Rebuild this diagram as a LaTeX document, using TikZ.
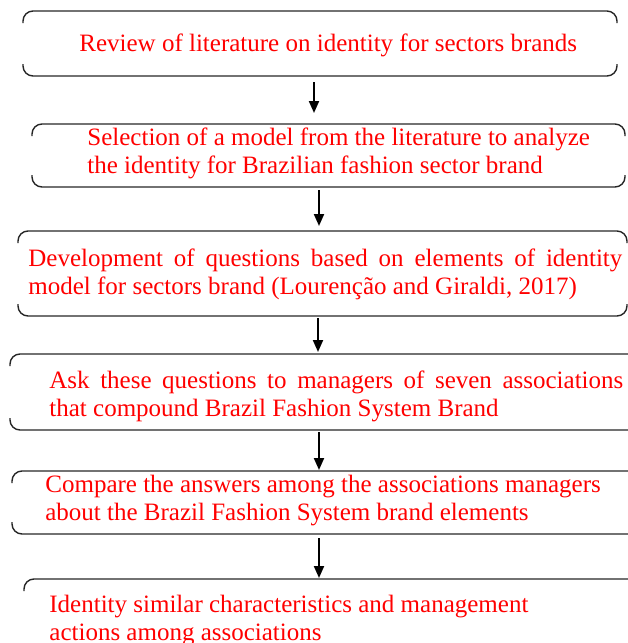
\documentclass[tikz,border=0pt]{standalone}
\usepackage{fontspec}
\setmainfont{Liberation Serif}
\usetikzlibrary{arrows.meta}

% open frame: only the top and bottom edges with their rounded ends
\newcommand{\stepframe}[1]{%
  \draw[bracket] ([yshift=-6pt]#1.north west) -- (#1.north west) -- (#1.north east) -- ([yshift=-6pt]#1.north east);
  \draw[bracket] ([yshift=6pt]#1.south west) -- (#1.south west) -- (#1.south east) -- ([yshift=6pt]#1.south east);}

\begin{document}
\begin{tikzpicture}[x=0.5pt,y=-0.5pt,
    frame/.style={inner sep=0pt,outer sep=0pt},
    bracket/.style={draw=black!85,line width=0.7pt,rounded corners=5pt},
    flow/.style={-{Triangle[length=6pt,width=5pt]},line width=1pt},
    steptext/.style={text=red,font=\fontsize{12.5}{14}\selectfont,align=left,inner sep=0pt,anchor=base west}]
    \useasboundingbox (0,0) rectangle (627,643);

    % frames
    \node[frame,minimum width=297pt,minimum height=32.5pt] (box1) at (320,43.5) {};
    \node[frame,minimum width=296.5pt,minimum height=31.5pt] (box2) at (328.5,155.5) {};
    \node[frame,minimum width=304.5pt,minimum height=42.5pt] (box3) at (322.5,273.5) {};
    \node[frame,minimum width=315pt,minimum height=38pt] (box4) at (325,392) {};
    \node[frame,minimum width=314pt,minimum height=31.5pt] (box5) at (326,502.5) {};
    \node[frame,minimum width=308pt,minimum height=40.5pt] (box6) at (332,619.5) {};
    \foreach \b in {box1,box2,box3,box4,box5,box6} \stepframe{\b};

    % steps (base = baseline of the last line)
    \node[steptext] (txt1) at (79,51) {Review of literature on identity for sectors brands};
    \node[steptext] (txt2) at (87,173) {Selection of a model from the literature to analyze\\the identity for Brazilian fashion sector brand};
    \node[steptext] (txt3) at (28,294) {\makebox[297pt][s]{Development of questions based on elements of identity}\\model for sectors brand (Lourenção and Giraldi, 2017)};
    \node[steptext] (txt4) at (49,416) {\makebox[287pt][s]{Ask these questions to managers of seven associations}\\that compound Brazil Fashion System Brand};
    \node[steptext] (txt5) at (45,520) {Compare the answers among the associations managers\\about the Brazil Fashion System brand elements};
    \node[steptext] (txt6) at (49,640) {Identity similar characteristics and management\\actions among associations};

    % arrows
    \draw[flow,shorten <=3pt,shorten >=5.5pt] ([xshift=-3pt]box1.south) -- ([xshift=-7.25pt]box2.north);
    \draw[flow,shorten <=1.5pt,shorten >=2.5pt] ([xshift=-4.75pt]box2.south) -- ([xshift=-1.75pt]box3.north);
    \draw[flow,shorten <=1pt,shorten >=1pt] ([xshift=-2.25pt]box3.south) -- ([xshift=-3.5pt]box4.north);
    \draw[flow,shorten <=1pt,shorten >=0.5pt] ([xshift=-3pt]box4.south) -- ([xshift=-3.5pt]box5.north);
    \draw[flow,shorten <=2pt,shorten >=0.5pt] ([xshift=-3.5pt]box5.south) -- ([xshift=-6.5pt]box6.north);
\end{tikzpicture}
\end{document}
